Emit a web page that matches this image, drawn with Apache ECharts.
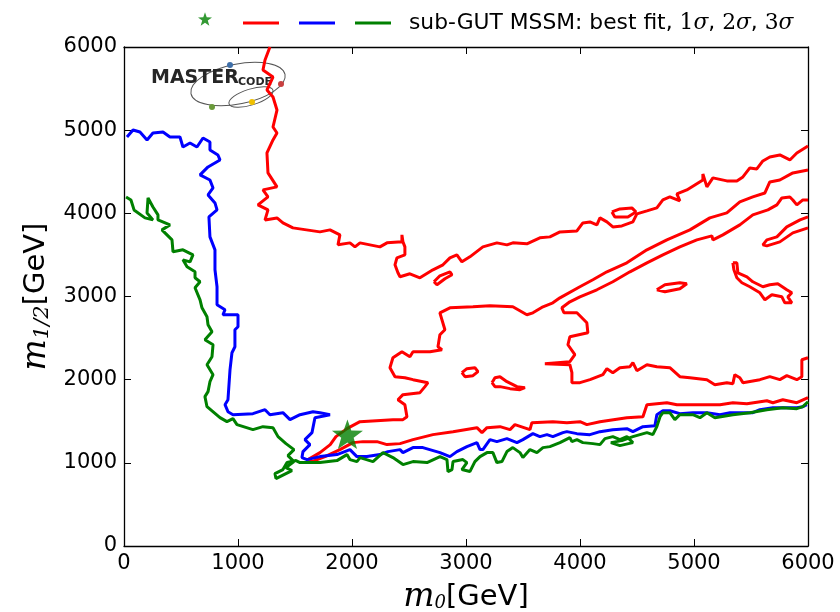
<!DOCTYPE html>
<html>
<head>
<meta charset="utf-8">
<script src="https://cdn.jsdelivr.net/npm/echarts@6/dist/echarts.min.js"></script>
<style>
html, body { margin: 0; padding: 0; background: #fff; }
#chart { width: 840px; height: 612px; }
</style>
</head>
<body>
<div id="chart"></div>
<script>
(function () {
    'use strict';

    // axis ticks (GeV)
    var xTickMin = 0, xTickMax = 6000, tickStep = 1000;

    // best fit point
    var bestFit = [[1960, 1345]];

    // 1 sigma contours (red)
    var redTop = [[1280,6000],[1237,5843],[1219,5723],[1307,5639],[1254,5483],[1307,5399],[1342,5242],[1307,5038],[1342,4966],[1307,4882],[1254,4726],[1263,4486],[1342,4318],[1219,4282],[1263,4197],[1175,4101],[1263,4041],[1237,3921],[1342,3945],[1394,3885],[1482,3825],[1719,3777],[1807,3801],[1894,3741],[1877,3621],[1982,3645],[2026,3597],[2070,3645],[2245,3597],[2307,3645],[2438,3657],[2438,3741],[2447,3657],[2464,3597],[2464,3501],[2394,3465],[2377,3381],[2403,3285],[2421,3237],[2508,3273],[2596,3225],[2710,3321],[2798,3381],[2859,3465],[2920,3501],[2964,3417],[3034,3477],[3148,3597],[3271,3645],[3359,3621],[3411,3645],[3534,3633],[3648,3705],[3736,3717],[3824,3777],[3973,3789],[4025,3885],[4087,3897],[4148,3861],[4175,3945],[4236,3897],[4288,3837],[4367,3849],[4464,3897],[4499,3993],[4587,4029],[4674,4065],[4727,4161],[4788,4197],[4876,4149],[4850,4233],[4937,4281],[5078,4401],[5078,4474],[5113,4318],[5166,4426],[5288,4390],[5376,4390],[5429,4438],[5490,4546],[5551,4534],[5604,4630],[5665,4678],[5753,4702],[5841,4642],[5902,4726],[6000,4810]];
    var redTopIsland = [[4280,4017],[4350,4053],[4455,4065],[4490,4017],[4420,3957],[4306,3957],[4280,4017]];
    var redBand = [[6000,4522],[5867,4486],[5753,4401],[5665,4377],[5622,4245],[5516,4197],[5402,4137],[5288,4005],[5139,3945],[4964,3801],[4762,3681],[4587,3561],[4411,3405],[4236,3297],[4113,3201],[3999,3117],[3824,2984],[3762,2924],[3675,2876],[3587,2804],[3534,2780],[3411,2876],[3210,2888],[3061,2876],[2859,2864],[2771,2804],[2815,2600],[2771,2540],[2754,2396],[2789,2360],[2684,2336],[2535,2336],[2508,2276],[2438,2336],[2359,2264],[2333,2144],[2377,2036],[2464,2024],[2535,2000],[2666,1964],[2640,1916],[2596,1844],[2447,1820],[2403,1759],[2464,1699],[2482,1555],[2447,1519],[2359,1519],[2070,1495],[1956,1411],[1859,1315],[1809,1219],[1719,1123],[1614,1039],[1649,1015],[1763,1075],[1894,1159],[2008,1243],[2096,1255],[2219,1255],[2307,1219],[2421,1231],[2535,1279],[2710,1339],[2886,1375],[3096,1423],[3140,1363],[3184,1423],[3298,1435],[3386,1399],[3429,1459],[3561,1399],[3578,1483],[3762,1495],[3885,1483],[4000,1495],[4060,1459],[4175,1495],[4411,1543],[4552,1555],[4587,1699],[4762,1723],[4850,1699],[5052,1699],[5228,1699],[5341,1723],[5464,1711],[5639,1747],[5692,1723],[5779,1759],[5902,1723],[6000,1783]];
    var redRight = [[6000,4161],[5955,4161],[5902,4101],[5867,4161],[5841,4197],[5771,4185],[5727,4101],[5648,4041],[5516,3981],[5402,3861],[5253,3741],[5166,3680],[5157,3729],[5025,3681],[4876,3597],[4727,3501],[4587,3405],[4438,3297],[4288,3177],[4148,3081],[3999,2996],[3911,2936],[3841,2864],[3859,2804],[3973,2804],[4060,2684],[4069,2564],[3911,2516],[3894,2420],[3955,2300],[3911,2216],[3692,2192],[3911,2180],[3929,2084],[3929,1964],[4000,1964],[4088,2000],[4201,2060],[4236,2132],[4288,2084],[4350,2144],[4438,2156],[4464,2204],[4499,2108],[4587,2180],[4674,2156],[4788,2144],[4876,2036],[4964,2024],[5113,2000],[5183,1940],[5288,1964],[5341,1952],[5358,2060],[5402,2024],[5429,1964],[5578,2000],[5665,2036],[5753,2000],[5814,2048],[5902,2000],[5946,2036],[5946,2240],[6000,2264]];
    var redSliver = [[6000,3957],[5930,3921],[5814,3837],[5727,3717],[5639,3681],[5604,3621],[5639,3609],[5753,3657],[5867,3765],[6000,3825]];
    var redIslandA = [[2719,3177],[2771,3249],[2859,3297],[2877,3261],[2815,3213],[2745,3141],[2719,3177]];
    var redIslandB = [[4674,3081],[4745,3141],[4876,3165],[4937,3153],[4876,3093],[4745,3057],[4674,3081]];
    var redIslandC = [[5341,3405],[5376,3405],[5385,3285],[5464,3237],[5516,3177],[5604,3117],[5665,3141],[5735,3153],[5814,3081],[5858,3045],[5823,2996],[5858,2924],[5797,2924],[5771,2996],[5683,3020],[5622,2960],[5578,3045],[5490,3117],[5420,3165],[5376,3225],[5350,3321],[5341,3405]];
    var redIslandD = [[2964,2084],[3008,2132],[3078,2144],[3105,2096],[3061,2048],[2991,2036],[2964,2084]];
    var redIslandE = [[3228,1964],[3254,2024],[3298,2036],[3359,1976],[3447,1916],[3517,1904],[3473,1880],[3386,1892],[3298,1916],[3254,1916],[3228,1964]];

    // 2 sigma contour (blue)
    var blueLine = [[26,4918],[79,5002],[140,4978],[202,4882],[254,4966],[342,4978],[403,4918],[491,4918],[517,4798],[579,4846],[640,4798],[693,4906],[754,4858],[754,4762],[824,4702],[842,4642],[737,4558],[667,4462],[754,4401],[781,4305],[737,4221],[798,4125],[816,4041],[745,3957],[754,3717],[798,3561],[798,3321],[816,3117],[816,2900],[886,2841],[868,2780],[1000,2780],[1000,2636],[973,2600],[973,2396],[947,2324],[930,2120],[912,1759],[886,1699],[912,1615],[956,1579],[1131,1591],[1237,1639],[1280,1579],[1394,1603],[1456,1519],[1544,1579],[1658,1615],[1719,1603],[1807,1579],[1719,1555],[1675,1543],[1649,1363],[1587,1279],[1631,1219],[1570,1135],[1561,1063],[1605,1039],[1719,1075],[1868,1099],[1982,1159],[2043,1075],[2131,1075],[2245,1099],[2315,1135],[2421,1159],[2447,1123],[2535,1183],[2622,1183],[2772,1123],[2859,1075],[2920,1135],[3008,1195],[3096,1243],[3123,1159],[3148,1159],[3210,1279],[3271,1255],[3359,1291],[3447,1243],[3499,1279],[3587,1351],[3648,1315],[3710,1339],[3762,1315],[3850,1363],[3885,1375],[3973,1351],[4087,1339],[4175,1375],[4288,1399],[4411,1411],[4464,1375],[4552,1435],[4657,1447],[4674,1579],[4727,1627],[4788,1627],[4876,1591],[4990,1603],[5113,1603],[5228,1579],[5316,1603],[5429,1603],[5516,1603],[5578,1639],[5692,1663],[5814,1663],[5902,1663],[5955,1675],[5990,1699]];

    // 3 sigma contour (green)
    var greenLine = [[18,4197],[61,4161],[88,4041],[184,3945],[254,3921],[202,4005],[211,4185],[254,4077],[298,3981],[298,3921],[403,3861],[333,3801],[421,3681],[430,3537],[517,3561],[605,3501],[579,3417],[517,3441],[553,3357],[623,3297],[623,3225],[667,3177],[623,3105],[667,2960],[684,2864],[728,2756],[737,2660],[772,2576],[710,2480],[781,2420],[772,2276],[728,2180],[781,2060],[754,1976],[737,1856],[710,1796],[728,1675],[842,1543],[903,1495],[956,1531],[991,1459],[1131,1399],[1219,1435],[1307,1423],[1351,1315],[1421,1231],[1491,1159],[1438,1087],[1491,1015],[1421,943],[1473,907],[1368,835],[1333,811],[1324,871],[1394,919],[1430,1003],[1509,1027],[1544,1003],[1719,1003],[1868,1027],[1956,1099],[1982,1039],[2043,1015],[2070,1063],[2184,1015],[2272,1123],[2359,1063],[2447,979],[2535,1015],[2658,1003],[2772,1075],[2833,1039],[2842,895],[2877,919],[2886,1015],[2973,1039],[3008,1003],[2964,919],[3034,895],[3078,1015],[3123,1075],[3184,1123],[3236,1123],[3271,1003],[3315,1015],[3359,1135],[3411,1183],[3473,1123],[3499,1063],[3561,1159],[3622,1123],[3675,1183],[3736,1195],[3824,1243],[3911,1303],[3929,1255],[3973,1279],[4025,1243],[4113,1231],[4175,1219],[4219,1291],[4288,1315],[4350,1279],[4411,1315],[4464,1243],[4350,1207],[4271,1243],[4367,1267],[4464,1315],[4587,1363],[4639,1339],[4674,1435],[4702,1555],[4727,1603],[4788,1603],[4832,1519],[4876,1579],[4990,1579],[5052,1543],[5113,1603],[5183,1543],[5341,1579],[5490,1603],[5639,1639],[5779,1663],[5902,1651],[5955,1675],[6000,1735]];

    var RED = '#ff0000', BLUE = '#0000ff', GREEN = '#008000';
    var STAR = 'path://M0,-10L2.35,-3.24L9.51,-3.09L3.8,1.24L5.88,8.09L0,4.1L-5.88,8.09L-3.8,1.24L-9.51,-3.09L-2.35,-3.24Z';
    var BAR = 'path://M0,0H36V3H0Z';
    var SERIF = '"DejaVu Serif", serif';

    function contour(name, data, color) {
        return {
            name: name, type: 'line', data: data,
            symbol: 'none', showSymbol: false, silent: true,
            lineStyle: { color: color, width: 3 },
            itemStyle: { color: color },
            z: 2
        };
    }

    function frameAxis(pos, showLabel, extra) {
        var ax = {
            type: 'value', position: pos,
            min: xTickMin, max: xTickMax, interval: tickStep,
            axisLine: { show: true, onZero: false, lineStyle: { color: '#000', width: 1.3 } },
            axisTick: { show: true, inside: true, length: 7, lineStyle: { color: '#000', width: 1 } },
            axisLabel: {
                show: showLabel, color: '#000', fontSize: 21, fontFamily: 'DejaVu Sans', margin: 7,
                formatter: function (v) { return String(v); }
            },
            splitLine: { show: false }
        };
        return Object.assign(ax, extra || {});
    }

    function nameRich(subSize) {
        return {
            m: { fontFamily: SERIF, fontStyle: 'italic', fontSize: 33, color: '#000' },
            sub: { fontFamily: SERIF, fontStyle: 'italic', fontSize: subSize, color: '#000', padding: [12, 0, 0, 0] },
            g: { fontFamily: 'DejaVu Sans', fontSize: 29, color: '#000' }
        };
    }

    var legendText = {
        p: { fontFamily: 'DejaVu Sans', fontSize: 21.8, color: '#000', padding: [0, 0, 0, 13] },
        t: { fontFamily: 'DejaVu Sans', fontSize: 21.8, color: '#000' },
        n: { fontFamily: SERIF, fontSize: 21.8, color: '#000' },
        s: { fontFamily: SERIF, fontStyle: 'italic', fontSize: 21.8, color: '#000' }
    };

    var chart = echarts.init(document.getElementById('chart'), null, { renderer: 'canvas' });

    var series = [
        contour('1σ', redTop, RED),
        contour('1σ', redTopIsland, RED),
        contour('1σ', redBand, RED),
        contour('1σ', redRight, RED),
        contour('1σ', redSliver, RED),
        contour('1σ', redIslandA, RED),
        contour('1σ', redIslandB, RED),
        contour('1σ', redIslandC, RED),
        contour('1σ', redIslandD, RED),
        contour('1σ', redIslandE, RED),
        contour('2σ', blueLine, BLUE),
        contour('3σ', greenLine, GREEN),
        {
            name: 'best fit', type: 'scatter', data: bestFit,
            symbol: STAR, symbolSize: 31, symbolKeepAspect: true,
            itemStyle: { color: GREEN }, z: 5, silent: true
        }
    ];

    chart.setOption({
        animation: false,
        backgroundColor: '#fff',
        grid: { left: 124, right: 32, top: 47, bottom: 66, containLabel: false, outerBoundsMode: 'none' },
        legend: [{
            left: 193, top: 7,
            itemWidth: 14, itemHeight: 14,
            selectedMode: false,
            data: [{ name: 'best fit', icon: STAR }],
            formatter: function () { return ''; }
        }, {
            left: 238, top: 7,
            itemWidth: 36, itemHeight: 14, itemGap: 20,
            selectedMode: false,
            data: [
                { name: '1σ', icon: BAR },
                { name: '2σ', icon: BAR },
                { name: '3σ', icon: BAR }
            ],
            formatter: function (n) {
                if (n !== '3σ') return '';
                return '{p|sub-GUT MSSM: best fit, }{n|1}{s|σ}{t|, }{n|2}{s|σ}{t|, }{n|3}{s|σ}';
            },
            textStyle: { rich: legendText }
        }],
        xAxis: [
            frameAxis('bottom', true, {
                name: '{m|m}{sub|0}{g|[GeV]}', nameLocation: 'middle', nameGap: 35,
                nameTextStyle: { rich: nameRich(18) }
            }),
            frameAxis('top', false)
        ],
        yAxis: [
            frameAxis('left', true, {
                name: '{m|m}{sub|1/2}{g|[GeV]}', nameLocation: 'middle', nameGap: 59,
                nameTextStyle: { rich: nameRich(21) }
            }),
            frameAxis('right', false)
        ],
        graphic: [{
            type: 'group', x: 150, y: 60, silent: true,
            children: [
                { type: 'ellipse', shape: { cx: 88, cy: 24, rx: 48, ry: 20 }, rotation: 0.2, originX: 88, originY: 24,
                  style: { fill: 'none', stroke: '#555', lineWidth: 1 } },
                { type: 'ellipse', shape: { cx: 101, cy: 37, rx: 23, ry: 8 }, rotation: 0.3, originX: 101, originY: 37,
                  style: { fill: 'none', stroke: '#555', lineWidth: 1 } },
                { type: 'text', x: 1, y: 9, style: { text: 'MASTER', fontFamily: 'DejaVu Sans', fontWeight: 'bold', fontSize: 19, fill: '#262626', verticalAlign: 'top' } },
                { type: 'text', x: 88, y: 17, style: { text: 'CODE', fontFamily: 'DejaVu Sans', fontWeight: 'bold', fontSize: 11, fill: '#262626', verticalAlign: 'top' } },
                { type: 'circle', shape: { cx: 80, cy: 5, r: 3 }, style: { fill: '#3f6fa8' } },
                { type: 'circle', shape: { cx: 131, cy: 24, r: 3 }, style: { fill: '#c94040' } },
                { type: 'circle', shape: { cx: 62, cy: 47, r: 3 }, style: { fill: '#6a9a3a' } },
                { type: 'circle', shape: { cx: 102, cy: 42, r: 3 }, style: { fill: '#f0c000' } }
            ]
        }],
        series: series
    });
})();
</script>
</body>
</html>
